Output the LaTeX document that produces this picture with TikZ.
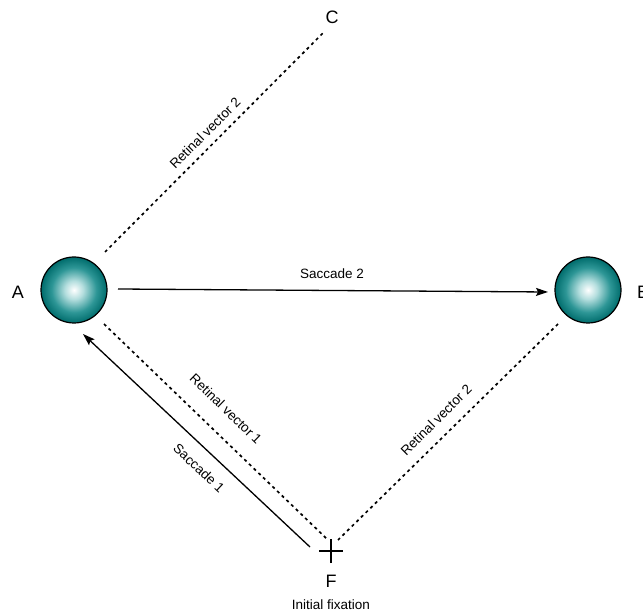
\documentclass[tikz,border=0pt]{standalone}
\usepackage{fontspec}
\setmainfont{Liberation Sans}
\usepackage{tikz}
\usetikzlibrary{arrows.meta}
\definecolor{ballmid}{RGB}{45,150,150}
\definecolor{balledge}{RGB}{0,108,108}
\definecolor{balllight}{RGB}{180,222,222}
\pgfdeclareradialshading{tealball}{\pgfpoint{0bp}{0bp}}{color(0bp)=(white); color(7bp)=(balllight); color(17bp)=(ballmid); color(25bp)=(balledge); color(50bp)=(balledge)}

\begin{document}
\begin{tikzpicture}[x = 1pt, y = -1pt,
  target/.style = {circle, draw, line width = 1.2pt, minimum size = 66pt, inner sep = 0, shading = tealball},
  letter/.style = {font = \fontsize{18}{20}\selectfont},
  tag/.style = {font = \fontsize{13.5}{15}\selectfont, inner sep = 0},
  retinal/.style = {line width = 1.7pt, dash pattern = on 3pt off 3.5pt},
  saccade/.style = {line width = 1.3pt, -{Stealth[length = 12pt, width = 8pt, inset = 2pt]}}]
 \useasboundingbox (0, 0) rectangle (643, 612);
  \node[target] (A) at (74, 290) {};
  \node[target] (B) at (588, 290) {};
  \coordinate (F) at (331, 551);
  \node[letter] (labA) at (18, 292) {A};
  \node[letter] (labB) at (643, 292) {B};
  \node[letter] (C) at (332, 17) {C};
  \node[letter] (labF) at (331, 581) {F};
  \node[tag] (init) at (331, 605) {Initial fixation};
  % fixation cross
  \draw[line width = 1.3pt] ([xshift = -12pt]F) -- ([xshift = 12pt]F);
  \draw[line width = 1.3pt] ([yshift = -12pt]F) -- ([yshift = 12pt]F);
  % retinal vectors
  \draw[retinal] ([shift = {(31, -38)}]A.center) -- ([shift = {(-9, 16)}]C.center);
  \draw[retinal] ([shift = {(30, 34)}]A.center) -- ([shift = {(-3, -11)}]F);
  \draw[retinal] ([shift = {(-30, 34)}]B.center) -- ([shift = {(7, -11)}]F);
  % saccades
  \draw[saccade] ([shift = {(-21, -4)}]F) -- ([shift = {(9, 44)}]A.center);
  \draw[saccade] ([shift = {(44, -1)}]A.center) -- ([shift = {(-40, 2)}]B.center);
  \node[tag] (rv2a) at (205, 133) [rotate = 45] {Retinal vector 2};
  \node[tag] (rv1) at (226, 409) [rotate = -44] {Retinal vector 1};
  \node[tag] (rv2b) at (436, 420) [rotate = 45] {Retinal vector 2};
  \node[tag] (sac1) at (199, 468) [rotate = -43] {Saccade 1};
  \node[tag] (sac2) at (332, 274) {Saccade 2};
 \end{tikzpicture}
\end{document}
